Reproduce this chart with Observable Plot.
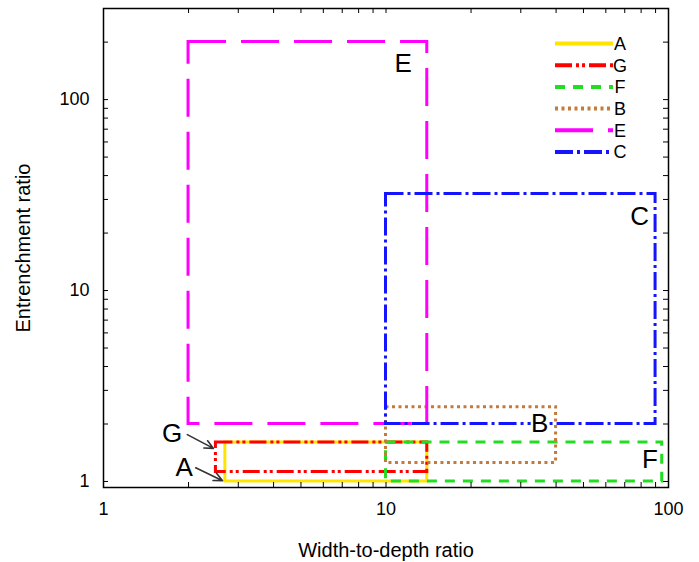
<!DOCTYPE html>
<html><head><meta charset="utf-8">
<script src="https://cdn.jsdelivr.net/npm/d3@7"></script>
<script src="https://cdn.jsdelivr.net/npm/@observablehq/plot@0.6"></script>
<style>body{margin:0;background:#fff;} #chart{position:relative;width:699px;height:562px;}</style>
</head><body><div id="chart"></div>
<script>
// Stream types (rectangles in width-to-depth vs entrenchment space)
const names  = ["A", "G", "F", "B", "E", "C"];
const xMin   = [2.7, 2.5, 10, 10, 2, 10];
const xMax   = [14, 14, 95, 40, 14, 90];
const yMin   = [1, 1.12, 1, 1.25, 2, 2];
const yMax   = [1.6, 1.6, 1.6, 2.45, 200, 32];
const colors = ["#FFE400", "#FF0000", "#22DD22", "#C47A3C", "#FF00FF", "#1414FF"];
const dashes = ["none", "17,4,3,3,3,4", "10,8", "3,3.5", "38,15", "18,4,3,4"];

// In-plot annotations
const labelNames = ["E", "C", "B", "F", "G", "A"];
const labelX = [11.5, 79, 35, 86, 1.75, 1.93];
const labelY = [154, 24.4, 2.01, 1.30, 1.78, 1.18];
const arrowX1 = [1.98, 2.12];
const arrowY1 = [1.76, 1.18];
const arrowX2 = [2.45, 2.64];
const arrowY2 = [1.49, 1.01];

// Ticks
const xTicks = [1, 10, 100];
const yTicks = [1, 10, 100];
const xAllTicks = [1,2,3,4,5,6,7,8,9,10,20,30,40,50,60,70,80,90,100];
const yAllTicks = [1,2,3,4,5,6,7,8,9,10,20,30,40,50,60,70,80,90,100,200];

const W = 699, H = 562, mL = 103, mR = 31, mT = 8, mB = 75;
const pw = W - mL - mR, ph = H - mT - mB, tk = 5;
const idx = names.map((_, i) => i);
const font = "Liberation Sans, Arial, sans-serif";

const rects = idx.map(i => Plot.rect([i], {
  x1: () => xMin[i], x2: () => xMax[i], y1: () => yMin[i], y2: () => yMax[i],
  fill: "none", stroke: colors[i], strokeWidth: 3,
  strokeDasharray: dashes[i] === "none" ? null : dashes[i], strokeLinejoin: "miter"
}));

const labels = labelNames.map((_, i) => i);
const arrows = [0, 1];

const chart = Plot.plot({
  width: W, height: H,
  marginLeft: mL, marginRight: mR, marginTop: mT, marginBottom: mB,
  style: {fontFamily: font, fontSize: "18px", background: "white", color: "black"},
  x: {type: "log", domain: [1, 100]},
  y: {type: "log", domain: [0.93, 300]},
  marks: [
    ...rects,
    Plot.text(labels, {x: i => labelX[i], y: i => labelY[i], text: i => labelNames[i],
      fontSize: 26, fill: "black", stroke: "white", strokeWidth: 5, textAnchor: "middle"}),
    Plot.arrow(arrows, {x1: i => arrowX1[i], y1: i => arrowY1[i], x2: i => arrowX2[i], y2: i => arrowY2[i],
      stroke: "#333", strokeWidth: 1.6, headLength: 9, headAngle: 50}),
    Plot.tickX(xAllTicks, {x: d => d, insetTop: ph - tk, stroke: "black"}),
    Plot.tickX(xAllTicks, {x: d => d, insetBottom: ph - tk, stroke: "black"}),
    Plot.tickY(yAllTicks, {y: d => d, insetRight: pw - tk, stroke: "black"}),
    Plot.tickY(yAllTicks, {y: d => d, insetLeft: pw - tk, stroke: "black"}),
    Plot.axisX(xTicks, {tickSize: 0, tickPadding: 15, tickFormat: d => String(d), fontSize: 18}),
    Plot.axisX({ticks: [], tickSize: 0, fontSize: 20,
      label: "Width-to-depth ratio", labelAnchor: "center", labelOffset: 69, labelArrow: "none"}),
    Plot.axisY(yTicks, {tickSize: 0, tickPadding: 14, tickFormat: d => String(d), fontSize: 18}),
    Plot.axisY({ticks: [], tickSize: 0, fontSize: 20,
      label: "Entrenchment ratio", labelAnchor: "center", labelOffset: 88, labelArrow: "none"}),
    Plot.frame({stroke: "black", strokeWidth: 1.5})
  ]
});

// Legend inside plot (top right)
const svg = d3.select(chart);
const lg = svg.append("g").attr("font-family", font).attr("font-size", 18);
idx.forEach(i => {
  const y = 43.5 + i * 21.7;
  lg.append("line").attr("x1", 555).attr("x2", 613).attr("y1", y).attr("y2", y)
    .attr("stroke", colors[i]).attr("stroke-width", 4)
    .attr("stroke-dasharray", dashes[i] === "none" ? null : dashes[i]);
  lg.append("text").attr("x", 620).attr("y", y).attr("dy", "0.35em").attr("fill", "black").text(names[i]);
});

document.getElementById("chart").appendChild(chart);
</script>
</body></html>
